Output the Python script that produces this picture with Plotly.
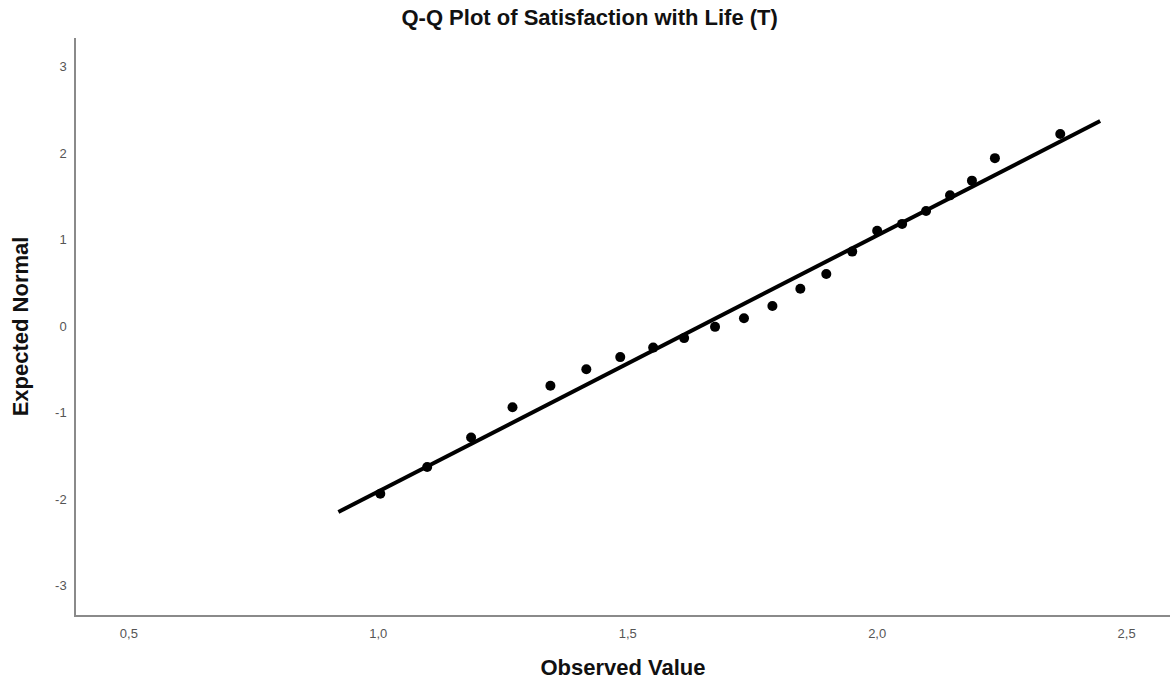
import plotly.graph_objects as go

observed = [1.004, 1.098, 1.186, 1.269, 1.345, 1.417, 1.485, 1.551, 1.613, 1.675,
            1.733, 1.790, 1.846, 1.898, 1.950, 2.000, 2.050, 2.098, 2.146, 2.190,
            2.236, 2.367]
expected = [-1.94, -1.63, -1.29, -0.94, -0.69, -0.50, -0.36, -0.25, -0.14, -0.01,
            0.09, 0.23, 0.43, 0.60, 0.86, 1.10, 1.18, 1.33, 1.51, 1.68,
            1.94, 2.22]

# Reference line endpoints
line_x = [0.920, 2.447]
line_y = [-2.15, 2.37]

x_ticks = [0.5, 1.0, 1.5, 2.0, 2.5]
x_tick_labels = ["0,5", "1,0", "1,5", "2,0", "2,5"]
y_ticks = [-3, -2, -1, 0, 1, 2, 3]
y_tick_labels = ["-3", "-2", "-1", "0", "1", "2", "3"]

fig = go.Figure()
fig.add_trace(go.Scatter(x=line_x, y=line_y, mode="lines",
                         line=dict(color="black", width=4), hoverinfo="skip",
                         showlegend=False))
fig.add_trace(go.Scatter(x=observed, y=expected, mode="markers",
                         marker=dict(color="black", size=10),
                         showlegend=False))

font_family = "Liberation Sans, Arial, sans-serif"
fig.update_layout(
    width=1170, height=682,
    margin=dict(l=76, r=0, t=38, b=67),
    paper_bgcolor="white", plot_bgcolor="white",
    font=dict(family=font_family, color="#222222"),
    title=dict(text="<b>Q-Q Plot of Satisfaction with Life (T)</b>",
               x=0.504, xref="container", xanchor="center",
               y=0.974, yref="container", yanchor="middle",
               font=dict(size=22, color="#111111")),
)
fig.update_xaxes(
    range=[0.394, 2.587], tickvals=x_ticks, ticktext=x_tick_labels,
    showgrid=False, zeroline=False, showline=True, linecolor="#8a8a8a",
    linewidth=1.5, ticks="", ticklabelstandoff=6,
    tickfont=dict(size=13, color="#555555"),
    title=dict(text="<b>Observed Value</b>", font=dict(size=22, color="#111111"),
               standoff=19),
    automargin=False,
)
fig.update_yaxes(
    range=[-3.341, 3.329], tickvals=y_ticks, ticktext=y_tick_labels,
    showgrid=False, zeroline=False, showline=True, linecolor="#8a8a8a",
    linewidth=1.5, ticks="", ticklabelstandoff=5,
    tickfont=dict(size=13, color="#555555"),
    title=dict(text="<b>Expected Normal</b>", font=dict(size=22, color="#111111"),
               standoff=20),
    automargin=False,
)

fig.write_html("out.html", config={"displayModeBar": False})

# remove the browser's default body margin so the figure sits at the page origin
with open("out.html", "r", encoding="utf-8") as f:
    html = f.read()
html = html.replace("<head>", "<head><style>html,body{margin:0;padding:0;}</style>", 1)
with open("out.html", "w", encoding="utf-8") as f:
    f.write(html)
